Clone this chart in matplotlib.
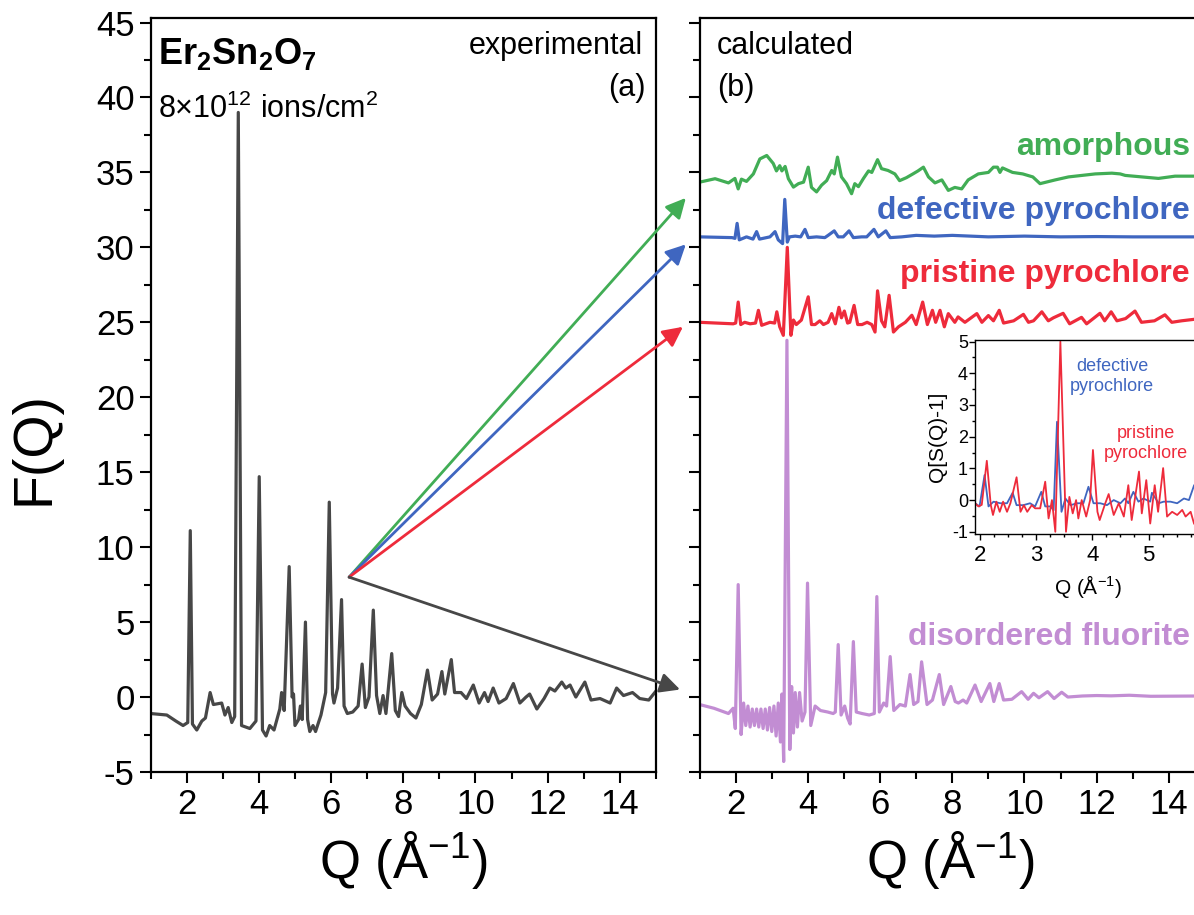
# -*- coding: utf-8 -*-

import matplotlib
matplotlib.use('Agg')
import matplotlib.pyplot as plt
from matplotlib.patches import ConnectionPatch
from matplotlib.ticker import MultipleLocator

plt.rcParams['font.family'] = 'Liberation Sans'
plt.rcParams['mathtext.fontset'] = 'custom'
plt.rcParams['mathtext.rm'] = 'Liberation Sans'
plt.rcParams['mathtext.it'] = 'Liberation Sans:italic'
plt.rcParams['mathtext.bf'] = 'Liberation Sans:bold'
plt.rcParams['axes.unicode_minus'] = False

# experimental F(Q), 8e12 ions/cm2
q_exp = [1.00, 1.45, 1.70, 1.90, 2.03, 2.10, 2.16, 2.28, 2.42, 2.52, 2.65, 2.74,
         2.97, 3.06, 3.15, 3.25, 3.33, 3.43, 3.52, 3.75, 3.92, 4.01, 4.10, 4.20,
         4.30, 4.42, 4.58, 4.63, 4.70, 4.84, 4.92, 4.96, 5.00, 5.10, 5.15, 5.20,
         5.29, 5.35, 5.41, 5.50, 5.57, 5.72, 5.85, 5.95, 6.04, 6.08, 6.18, 6.29,
         6.36, 6.45, 6.60, 6.75, 6.86, 6.95, 7.05, 7.17, 7.26, 7.35, 7.44, 7.52,
         7.68, 7.78, 7.87, 7.96, 8.05, 8.20, 8.35, 8.50, 8.67, 8.80, 8.95, 9.07,
         9.15, 9.33, 9.42, 9.60, 9.75, 9.94, 10.10, 10.25, 10.35, 10.49, 10.65,
         10.85, 11.05, 11.23, 11.40, 11.50, 11.70, 11.90, 12.06, 12.20, 12.39,
         12.50, 12.62, 12.78, 13.03, 13.20, 13.45, 13.73, 13.91, 14.10, 14.35,
         14.55, 14.80, 15.00]
f_exp = [-1.1, -1.2, -1.6, -1.9, -1.7, 11.1, -1.8, -2.2, -1.6, -1.4, 0.3, -0.5,
         -0.4, -1.2, -0.7, -1.7, -1.3, 39.0, -1.9, -2.1, -1.6, 14.7, -2.2, -2.6,
         -1.9, -2.2, -0.8, 0.3, -0.9, 8.7, 0.0, 0.2, -1.9, -1.5, -0.6, -1.5,
         5.0, -1.5, -2.3, -1.9, -2.3, -1.2, 0.3, 13.0, 0.2, -0.4, 0.6, 6.5,
         -0.6, -1.1, -1.0, -0.6, 2.2, -0.7, 0.0, 5.8, 0.1, -1.1, 0.1, -1.1,
         2.9, -0.9, -1.3, 0.3, -0.6, -1.1, -1.4, -0.5, 1.8, -0.2, 0.2, 1.7,
         0.2, 2.5, 0.3, 0.3, -0.1, 0.8, -0.4, 0.3, -0.3, 0.6, -0.4,
         -0.1, 0.9, -0.4, 0.0, 0.2, -0.8, -0.1, 0.6, 0.4, 1.0,
         0.6, 0.8, 0.0, 1.0, -0.2, -0.1, -0.4, 0.6, 0.1, 0.3,
         -0.1, -0.2, 0.4]

# calculated: amorphous
q_amo = [1.00, 1.43, 1.80, 1.98, 2.07, 2.16, 2.30, 2.49, 2.67, 2.86, 3.04, 3.13,
         3.22, 3.28, 3.37, 3.46, 3.60, 3.74, 3.88, 4.01, 4.10, 4.24, 4.38, 4.52,
         4.66, 4.73, 4.82, 4.93, 5.07, 5.21, 5.30, 5.40, 5.54, 5.68, 5.77, 5.93,
         6.04, 6.22, 6.41, 6.54, 6.73, 6.91, 7.05, 7.20, 7.34, 7.52, 7.71, 7.89,
         8.07, 8.26, 8.44, 8.72, 9.00, 9.14, 9.25, 9.32, 9.39, 9.67, 9.95, 10.23,
         10.43, 10.85, 11.22, 11.59, 11.96, 12.42, 12.65, 12.79, 13.25, 13.71,
         14.17, 14.90]
f_amo = [-0.15, 0.08, -0.2, 0.1, -0.6, 0.05, -0.1, 0.4, 1.4, 1.63, 1.1, 0.6,
         0.95, 0.6, 0.9, 0.08, -0.48, -0.25, -0.15, 0.85, -0.5, -0.8, -0.35, -0.05,
         0.63, 0.4, 1.52, 0.2, -0.25, -0.92, -0.25, -0.45, 0.1, 0.6, 0.5, 1.35,
         0.75, 0.63, 0.4, -0.05, 0.15, 0.4, 0.6, 0.85, 0.2, -0.2, 0.0, -0.7,
         -0.5, -0.6, 0.0, 0.4, 0.5, 0.85, 0.85, 0.5, 0.8, 0.5, 0.4, 0.2,
         -0.25, 0.0, 0.2, 0.3, 0.4, 0.45, 0.4, 0.3, 0.2, 0.1,
         0.25, 0.25]

# calculated: defective pyrochlore
q_def = [1.00, 1.90, 1.98, 2.04, 2.10, 2.30, 2.48, 2.58, 2.66, 2.95, 3.09, 3.18,
         3.30, 3.36, 3.43, 3.49, 3.65, 3.80, 3.92, 4.01, 4.24, 4.47, 4.56, 4.73,
         4.84, 4.98, 5.14, 5.26, 5.49, 5.63, 5.83, 5.95, 6.16, 6.28, 6.60, 7.00,
         7.50, 8.00, 9.00, 10.00, 11.00, 12.00, 13.00, 14.90]
f_def = [0.0, -0.05, -0.1, 0.9, -0.2, 0.0, -0.15, 0.35, -0.15, 0.0, 0.35, -0.2,
         -0.45, 2.5, -0.35, 0.0, 0.05, 0.0, 0.5, -0.05, 0.0, -0.05, 0.1, 0.4,
         0.0, 0.0, 0.4, -0.05, 0.0, 0.0, 0.5, 0.0, 0.4, -0.05, 0.0, 0.1,
         0.05, 0.1, 0.0, 0.05, 0.0, 0.02, 0.0, 0.0]

# calculated: pristine pyrochlore
q_pri = [1.00, 1.93, 2.00, 2.07, 2.14, 2.25, 2.40, 2.55, 2.63, 2.72, 2.95, 3.08,
         3.14, 3.22, 3.32, 3.43, 3.53, 3.60, 3.68, 3.82, 4.01, 4.10, 4.20, 4.33,
         4.43, 4.56, 4.66, 4.76, 4.86, 4.93, 5.01, 5.10, 5.16, 5.28, 5.38, 5.50,
         5.64, 5.77, 5.86, 5.93, 6.04, 6.13, 6.25, 6.37, 6.51, 6.70, 6.88, 7.00,
         7.18, 7.31, 7.45, 7.54, 7.66, 7.78, 7.89, 8.07, 8.16, 8.35, 8.68, 8.82,
         9.00, 9.14, 9.30, 9.42, 9.70, 9.97, 10.11, 10.25, 10.48, 10.66, 10.80,
         11.07, 11.25, 11.58, 11.72, 12.09, 12.22, 12.40, 12.56, 12.80, 13.06,
         13.24, 13.60, 13.89, 14.08, 14.35, 14.70, 14.90]
f_pri = [0.0, -0.1, -0.05, 1.35, -0.15, 0.0, -0.1, -0.05, 0.8, -0.2, 0.0, -0.05,
         0.7, -0.3, -0.87, 5.0, -0.87, 0.15, -0.15, 0.15, 1.7, -0.15, -0.15, 0.1,
         -0.15, 0.0, 0.58, -0.1, 1.0, 0.3, 0.75, -0.05, 0.0, 1.13, -0.15, -0.15,
         0.0, -0.15, -0.65, 2.1, 0.1, -0.3, 1.8, -0.65, -0.3, 0.0, 0.47, -0.15,
         1.35, -0.15, 0.8, 0.0, 0.8, -0.3, 0.58, 0.0, 0.36, 0.0, 0.58, 0.0,
         0.45, 0.1, 0.8, -0.05, 0.1, 0.53, 0.0, 0.1, 0.7, 0.1, 0.3,
         0.6, -0.1, 0.33, -0.1, 0.6, 0.1, 0.7, 0.1, 0.25, 0.75,
         0.0, 0.1, 0.5, 0.0, 0.1, 0.2, 0.2]

# calculated: disordered fluorite
q_flu = [1.00, 1.40, 1.80, 1.93, 1.99, 2.07, 2.15, 2.22, 2.28, 2.34, 2.40, 2.46,
         2.52, 2.58, 2.64, 2.70, 2.76, 2.82, 2.88, 2.94, 3.00, 3.06, 3.12, 3.18,
         3.24, 3.28, 3.33, 3.42, 3.50, 3.55, 3.60, 3.65, 3.71, 3.77, 3.84, 3.92,
         3.99, 4.08, 4.20, 4.35, 4.55, 4.70, 4.76, 4.84, 4.92, 5.02, 5.10, 5.17,
         5.26, 5.34, 5.50, 5.70, 5.84, 5.91, 5.98, 6.10, 6.18, 6.28, 6.38, 6.55,
         6.70, 6.83, 6.93, 7.05, 7.15, 7.30, 7.45, 7.64, 7.76, 7.96, 8.08, 8.17,
         8.30, 8.40, 8.63, 8.80, 9.04, 9.15, 9.30, 9.42, 9.65, 9.92, 10.10, 10.25,
         10.40, 10.64, 10.82, 11.03, 11.20, 11.60, 12.00, 12.40, 12.90, 13.50,
         14.20, 14.90]
f_flu = [-0.5, -0.75, -1.1, -0.75, -2.1, 7.5, -2.5, -0.4, -1.9, -0.6, -2.0, -0.8,
         -1.9, -0.8, -2.0, -0.8, -2.1, -0.8, -2.2, -0.7, -2.3, -0.6, -2.6, -0.4,
         -3.0, 0.2, -4.3, 23.8, -3.5, 0.7, -2.4, 0.3, -2.0, 0.3, -1.6, -1.0,
         7.6, -1.9, -0.6, -0.9, -1.0, -1.1, -1.0, 3.5, -1.2, -0.6, -1.4, -1.8,
         3.7, -1.0, -1.1, -1.2, -1.1, 6.7, -1.0, -0.4, -0.6, 2.7, -0.9, -0.5,
         -0.6, 1.5, -0.5, -0.3, 2.35, -0.5, -0.2, 1.5, -0.5, 0.7, -0.3, -0.4,
         -0.2, -0.4, 0.8, -0.3, 0.9, -0.3, 0.9, -0.2, -0.15, 0.36, -0.15, 0.25,
         -0.05, 0.36, -0.1, 0.32, 0.0, 0.07, 0.1, 0.08, 0.12, 0.05,
         0.06, 0.07]

# vertical offsets of the calculated curves
off_amo = 34.5
off_def = 30.7
off_pri = 25.0
off_flu = 0.0

# inset Q[S(Q)-1]
q_ins_pri = [1.91, 1.97, 2.03, 2.12, 2.19, 2.23, 2.29, 2.35, 2.41, 2.48, 2.54, 2.65,
             2.72, 2.78, 2.84, 2.92, 2.98, 3.07, 3.16, 3.22, 3.28, 3.34, 3.43,
             3.53, 3.59, 3.65, 3.71, 3.75, 3.81, 3.89, 3.96, 4.01, 4.09, 4.13,
             4.23, 4.29, 4.38, 4.47, 4.56, 4.64, 4.70, 4.83, 4.88, 4.96, 5.03,
             5.11, 5.17, 5.26, 5.33, 5.42, 5.51, 5.60, 5.66, 5.75, 5.81]
v_ins_pri = [-0.1, -0.2, -0.15, 1.24, -0.15, -0.47, -0.05, -0.37, -0.05, -0.37,
             -0.1, 0.72, -0.37, -0.16, -0.37, -0.16, -0.26, -0.26, 0.58, -0.58,
             0.0, -1.0, 5.0, -1.0, 0.1, -0.42, 0.0, -0.58, 0.0, -0.52, 0.0, 1.58,
             -0.37, -0.63, -0.1, 0.19, -0.47, -0.1, -0.52, 0.47, -0.63, 0.9, -0.42,
             0.63, -0.74, 0.47, -0.37, 1.01, -0.52, -0.37, -0.47, -0.31, -0.52,
             -0.37, -0.74]
q_ins_def = [1.91, 1.99, 2.08, 2.15, 2.24, 2.36, 2.48, 2.58, 2.65, 2.77, 2.89, 2.98,
             3.09, 3.16, 3.25, 3.31, 3.37, 3.45, 3.52, 3.61, 3.73, 3.84, 3.93,
             4.02, 4.14, 4.26, 4.38, 4.50, 4.58, 4.64, 4.73, 4.82, 4.91, 5.03,
             5.06, 5.18, 5.27, 5.39, 5.51, 5.63, 5.72, 5.81]
v_ins_def = [-0.1, -0.2, 0.79, -0.2, -0.05, -0.1, -0.1, 0.23, -0.16, -0.16, -0.1,
             -0.2, 0.26, -0.2, -0.2, -0.32, 2.47, -0.37, 0.05, -0.16, -0.1, -0.1,
             0.42, -0.1, -0.1, -0.16, 0.0, -0.1, 0.05, -0.1, 0.26, -0.05, 0.05,
             -0.05, 0.23, -0.1, -0.05, -0.05, -0.1, 0.05, 0.0, 0.46]

c_gray = '#474747'
c_green = '#41ad55'
c_blue = '#3f66c0'
c_red = '#ee2b3b'
c_purple = '#c28dd3'

fig = plt.figure(figsize=(11.94, 9.15), dpi=100)
ax1 = fig.add_axes([0.1261, 0.1563, 0.4233, 0.8240])
ax2 = fig.add_axes([0.5859, 0.1563, 0.4200, 0.8240])
ins = fig.add_axes([0.8166, 0.4164, 0.1900, 0.2120])

def style_main(ax):
    ax.set_ylim(-5, 45.3)
    ax.yaxis.set_major_locator(MultipleLocator(5))
    ax.yaxis.set_minor_locator(MultipleLocator(2.5))
    ax.xaxis.set_major_locator(MultipleLocator(2))
    ax.xaxis.set_minor_locator(MultipleLocator(1))
    ax.tick_params(which='both', direction='out', width=1.5, labelsize=25)
    ax.tick_params(which='major', length=8)
    ax.tick_params(which='minor', length=5)
    for s in ax.spines.values():
        s.set_linewidth(1.6)
    ax.set_xlabel('Q (Å$^{-1}$)', fontsize=38, labelpad=6)

# (a) experimental
ax1.plot(q_exp, f_exp, color=c_gray, lw=2.3)
ax1.set_xlim(1, 15)
style_main(ax1)
ax1.set_ylabel('F(Q)', fontsize=40)
ax1.yaxis.set_label_coords(-0.179, 0.43)
ax1.text(1.2, 42.25, r'$\mathbf{Er_2Sn_2O_7}$', fontsize=26, ha='left',
         va='baseline')
ax1.text(1.2, 38.6, r'8×10$^{12}$ ions/cm$^2$', fontsize=22, ha='left',
         va='baseline')
ax1.text(14.64, 42.9, 'experimental', fontsize=22, ha='right', va='baseline')
ax1.text(14.70, 40.1, '(a)', fontsize=22, ha='right', va='baseline')

# (b) calculated
ax2.plot(q_amo, [v + off_amo for v in f_amo], color=c_green, lw=2.3)
ax2.plot(q_def, [v + off_def for v in f_def], color=c_blue, lw=2.3)
ax2.plot(q_pri, [v + off_pri for v in f_pri], color=c_red, lw=2.3)
ax2.plot(q_flu, [v + off_flu for v in f_flu], color=c_purple, lw=2.3)
ax2.set_xlim(1, 14.89)
style_main(ax2)
ax2.tick_params(labelleft=False)
ax2.text(1.48, 42.9, 'calculated', fontsize=22, ha='left', va='baseline')
ax2.text(1.48, 40.1, '(b)', fontsize=22, ha='left', va='baseline')
ax2.text(14.58, 36.13, 'amorphous', fontsize=23, weight='bold',
         color=c_green, ha='right', va='baseline')
ax2.text(14.58, 31.9, 'defective pyrochlore', fontsize=23, weight='bold',
         color=c_blue, ha='right', va='baseline')
ax2.text(14.58, 27.7, 'pristine pyrochlore', fontsize=23, weight='bold',
         color=c_red, ha='right', va='baseline')
ax2.text(14.58, 3.47, 'disordered fluorite', fontsize=23, weight='bold',
         color=c_purple, ha='right', va='baseline')

# inset
ins.plot(q_ins_def, v_ins_def, color=c_blue, lw=1.3)
ins.plot(q_ins_pri, v_ins_pri, color=c_red, lw=1.3)
ins.set_xlim(1.91, 5.95)
ins.set_ylim(-1.07, 5.05)
ins.xaxis.set_major_locator(MultipleLocator(1))
ins.xaxis.set_minor_locator(MultipleLocator(0.25))
ins.yaxis.set_major_locator(MultipleLocator(1))
ins.yaxis.set_minor_locator(MultipleLocator(0.5))
ins.tick_params(which='both', direction='out', width=1.0)
ins.tick_params(which='major', length=4)
ins.tick_params(which='minor', length=2.5)
ins.tick_params(axis='x', labelsize=16, pad=4)
ins.tick_params(axis='y', labelsize=13, pad=1)
for s in ins.spines.values():
    s.set_linewidth(1.0)
ins.set_ylabel('Q[S(Q)-1]', fontsize=15, labelpad=4)
ins.set_xlabel('Q (Å$^{-1}$)', fontsize=15, labelpad=5)
ins.text(4.35, 3.9, 'defective\npyrochlore', fontsize=13, color=c_blue,
         ha='center', va='center')
ins.text(4.96, 1.79, 'pristine\npyrochlore', fontsize=13, color=c_red,
         ha='center', va='center')

# arrows from experiment to each model
targets = [((0.62, 33.3), c_green), ((0.62, 30.2), c_blue),
           ((0.54, 24.7), c_red), ((0.46, 0.5), c_gray)]
for xy, col in targets:
    con = ConnectionPatch(xyA=(6.5, 8.0), coordsA=ax1.transData,
                          xyB=xy, coordsB=ax2.transData,
                          arrowstyle='-|>', mutation_scale=30, lw=2.0,
                          color=col, shrinkA=0, shrinkB=0)
    fig.add_artist(con)

fig.savefig('out.png', dpi=100)
